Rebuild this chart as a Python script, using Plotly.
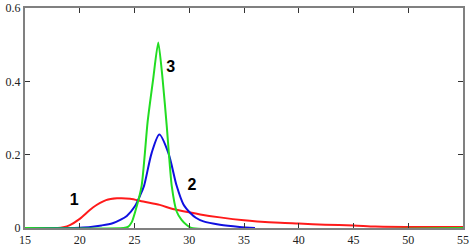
import plotly.graph_objects as go

# Curve 1 (red)
red_x = [15, 18, 18.5, 19.1, 20, 21.2, 22.4, 23.4, 24.6, 25.8, 27.3, 28.5, 30.1, 31.0, 32.8, 35.0, 36.2, 38.3, 40.0, 42.4, 45.0, 47.0, 50.0, 55.0]
red_y = [0, 0, 0.002, 0.008, 0.025, 0.056, 0.076, 0.081, 0.080, 0.072, 0.063, 0.052, 0.042, 0.037, 0.029, 0.021, 0.018, 0.014, 0.012, 0.009, 0.007, 0.004, 0.003, 0.003]

# Curve 2 (blue)
blue_x = [15, 19, 20, 21, 22, 23, 23.7, 24.3, 25.05, 25.5, 25.87, 26.57, 27.27, 28.09, 28.85, 29.46, 30.1, 30.6, 31.3, 32.8, 34.6, 36.0]
blue_y = [0, 0, 0.001, 0.003, 0.007, 0.013, 0.022, 0.033, 0.060, 0.088, 0.115, 0.205, 0.255, 0.205, 0.115, 0.065, 0.041, 0.028, 0.018, 0.009, 0.003, 0.0]

# Curve 3 (green)
green_x = [15, 24.0, 24.4, 24.75, 25.05, 25.65, 26.2, 26.7, 27.17, 27.57, 27.94, 28.4, 28.85, 29.3, 29.77, 30.2, 55]
green_y = [0, 0, 0.003, 0.016, 0.043, 0.115, 0.29, 0.405, 0.506, 0.405, 0.28, 0.115, 0.045, 0.022, 0.008, 0.0, 0]

x_ticks = [15, 20, 25, 30, 35, 40, 45, 50, 55]
y_ticks = [0, 0.2, 0.4, 0.6]
y_tick_text = ["0", "0.2", "0.4", "0.6"]

labels = ["1", "2", "3"]
label_x = [19.5, 30.25, 28.3]
label_y = [0.074, 0.115, 0.437]

fig = go.Figure()
fig.add_trace(go.Scatter(x=red_x, y=red_y, mode="lines", line=dict(color="#ff1a1a", width=2, shape="spline", smoothing=0.8)))
fig.add_trace(go.Scatter(x=blue_x, y=blue_y, mode="lines", line=dict(color="#1010e0", width=2, shape="spline", smoothing=0.8)))
fig.add_trace(go.Scatter(x=green_x, y=green_y, mode="lines", line=dict(color="#22dd22", width=2, shape="spline", smoothing=0.6)))
fig.add_trace(go.Scatter(x=label_x, y=label_y, mode="text", text=labels,
                         textfont=dict(family="Liberation Sans, Arial", size=16, color="black", weight="bold"),
                         textposition="middle center", cliponaxis=False))

axis_common = dict(showline=True, linecolor="#808080", linewidth=2, mirror="ticks",
                   ticks="inside", ticklen=5, tickcolor="#333333", tickwidth=1,
                   showgrid=False, zeroline=False, automargin=False,
                   tickfont=dict(family="Liberation Serif, Times New Roman", size=12, color="#222222"))

fig.update_layout(
    width=472, height=250,
    margin=dict(l=25, r=9, t=8, b=22),
    paper_bgcolor="white", plot_bgcolor="white",
    showlegend=False,
    xaxis=dict(range=[15, 55], tickvals=x_ticks, **axis_common),
    yaxis=dict(range=[0, 0.6], tickvals=y_ticks, ticktext=y_tick_text, **axis_common),
)

fig.write_html("out.html", config={"displayModeBar": False},
               post_script="document.body.style.margin='0';document.body.style.overflow='hidden';")
